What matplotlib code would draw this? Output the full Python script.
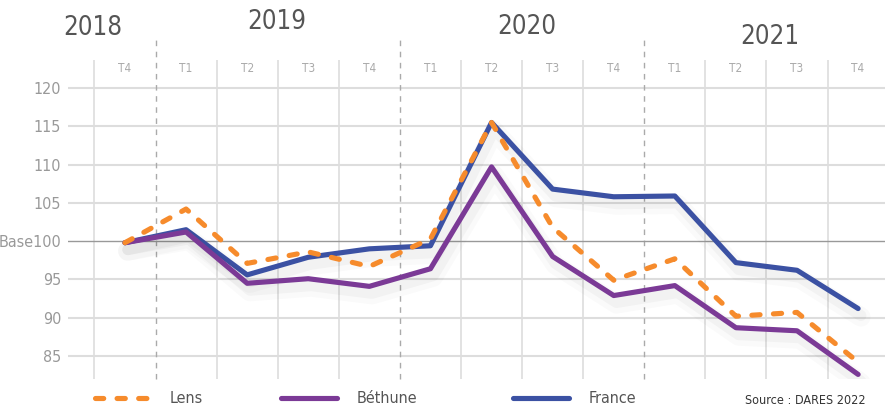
import numpy as np
import matplotlib
matplotlib.use('Agg')
import matplotlib.pyplot as plt
import matplotlib.patheffects as pe
from matplotlib.lines import Line2D

plt.rcParams['font.family'] = ['DejaVu Sans']
plt.rcParams['font.stretch'] = 'condensed'

quarters = ['T4', 'T1', 'T2', 'T3', 'T4', 'T1', 'T2', 'T3', 'T4', 'T1', 'T2', 'T3', 'T4']
years = ['2018', '2019', '2020', '2021']
lens = [99.8, 104.2, 97.1, 98.6, 96.7, 100.3, 115.5, 101.8, 94.9, 97.7, 90.2, 90.7, 84.2]
bethune = [99.8, 101.2, 94.5, 95.1, 94.1, 96.4, 109.7, 98.0, 92.9, 94.2, 88.7, 88.3, 82.6]
france = [99.8, 101.5, 95.6, 97.9, 99.0, 99.4, 115.5, 106.8, 105.8, 105.9, 97.2, 96.2, 91.2]
yticks = [85, 90, 95, 100, 105, 110, 115, 120]
yticklabels = ['85', '90', '95', 'Base100', '105', '110', '115', '120']

c_lens = '#F68B2C'
c_beth = '#7B3A96'
c_fra = '#3B51A3'

fig = plt.figure(figsize=(8.85, 4.09), dpi=100)
ax = fig.add_axes([0.0768, 0.0733, 0.9232, 0.78])
x = np.arange(len(quarters))

ax.set_xlim(-0.933, 12.44)
ax.set_ylim(82.0, 123.66)
for s in ax.spines.values():
    s.set_visible(False)

# horizontal grid
for v in yticks:
    if v == 100:
        ax.axhline(v, color='#999999', lw=1.0, zorder=1)
    else:
        ax.axhline(v, color='#dddddd', lw=1.5, zorder=0)

# vertical separators, dashed at year change
for i in range(len(quarters)):
    b = i - 0.5
    if quarters[i] == 'T1':
        ax.axvline(b, ymin=0, ymax=1.078, color='#aaaaaa', lw=1.0,
                   ls=(0, (4, 4)), clip_on=False, zorder=0)
    else:
        ax.axvline(b, color='#dddddd', lw=1.2, zorder=0)

shadow = [pe.SimpleLineShadow(offset=(2, -6), shadow_color='#000000', alpha=0.02, linewidth=14),
          pe.SimpleLineShadow(offset=(2, -5), shadow_color='#000000', alpha=0.03, linewidth=8),
          pe.Normal()]

lw = 3.7
l_fra, = ax.plot(x, france, color=c_fra, lw=lw, solid_capstyle='round', zorder=3, path_effects=shadow)
l_beth, = ax.plot(x, bethune, color=c_beth, lw=lw, solid_capstyle='round', zorder=4, path_effects=shadow)
l_lens, = ax.plot(x, lens, color=c_lens, lw=lw, dashes=(1.6, 2.6), dash_capstyle='round', zorder=5)

ax.set_yticks(yticks)
ax.set_yticklabels(yticklabels)
ax.tick_params(axis='y', length=0, labelsize=11.5, labelcolor='#999999', pad=5)

ax.set_xticks(x)
ax.set_xticklabels(quarters)
ax.tick_params(axis='x', top=True, labeltop=True, bottom=False, labelbottom=False,
               length=0, labelsize=8.5, labelcolor='#aaaaaa', pad=-11)

year_x = [-0.52, 2.49, 6.58, 10.56]
year_y = [1.100, 1.119, 1.103, 1.072]
for yr, xx, yy in zip(years, year_x, year_y):
    ax.text(xx, yy, yr, transform=ax.get_xaxis_transform(), ha='center', va='center',
            fontsize=18.5, color='#555555')

# legend, one box per series
def leg(handle, label, xpos):
    h = Line2D([], [], color=handle.get_color(), lw=lw, solid_capstyle='round',
               dash_capstyle='round')
    if handle is l_lens:
        h.set_dashes((1.6, 2.6))
    lg = fig.legend([h], [label], loc='center left', bbox_to_anchor=(xpos, 0.025),
                    frameon=False, fontsize=11.5, handlelength=3.5, handletextpad=1.2,
                    labelcolor='#555555', borderaxespad=0, borderpad=0)
    return lg

leg(l_lens, 'Lens', 0.107)
leg(l_beth, 'Béthune', 0.318)
leg(l_fra, 'France', 0.580)

fig.text(0.842, 0.004, 'Source : DARES 2022', fontsize=9, color='#333333', va='bottom')

fig.savefig('out.png', dpi=100)
